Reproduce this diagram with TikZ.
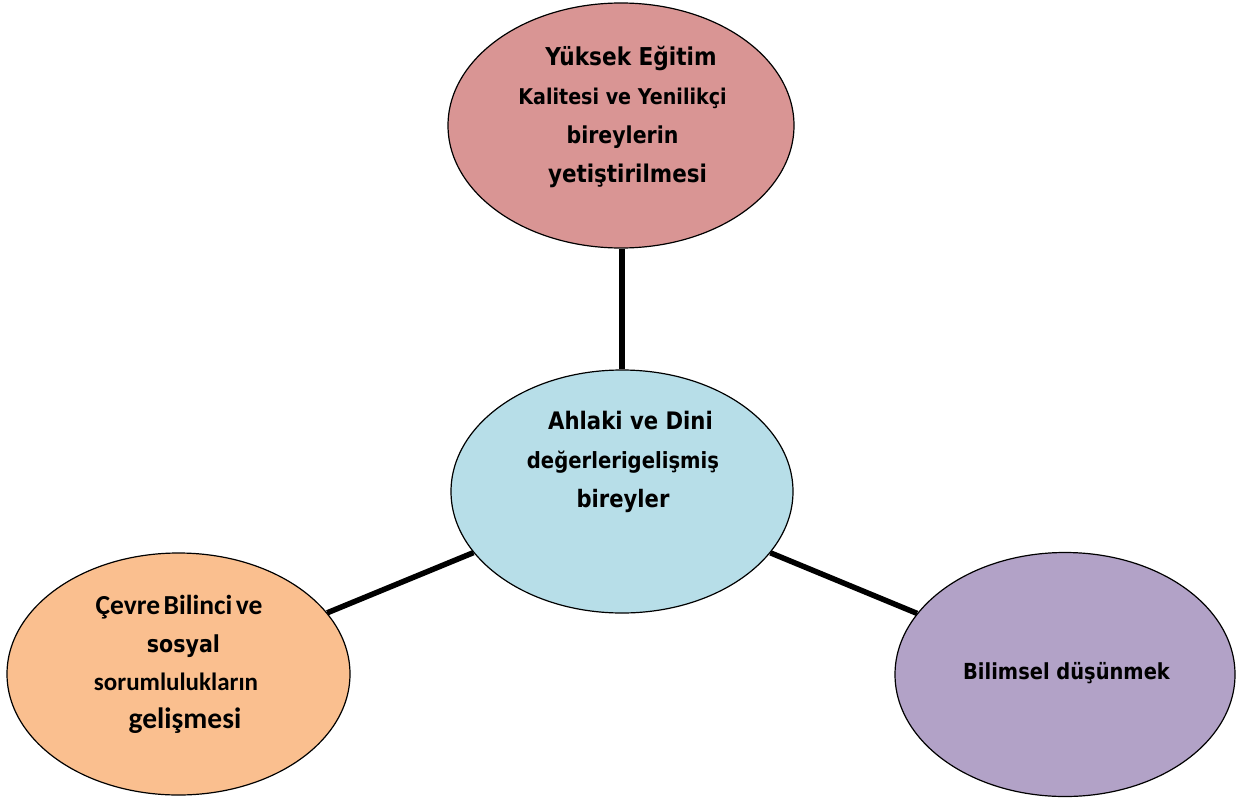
\documentclass[tikz,border=0pt]{standalone}
\usepackage{fontspec}
\setmainfont{DejaVu Sans}[FakeStretch=0.88]
\newfontfamily\carlitofont{Carlito}
\usetikzlibrary{shapes.geometric}
\definecolor{topfill}{RGB}{217,149,148}
\definecolor{midfill}{RGB}{183,222,232}
\definecolor{leftfill}{RGB}{250,191,143}
\definecolor{rightfill}{RGB}{178,162,199}
\newcommand{\fs}[1]{\fontsize{#1}{39}\selectfont}
\tikzset{
  blob/.style={ellipse, draw=black, line width=1.2pt, inner sep=0pt},
  label/.style={inner sep=0pt, align=center, font=\bfseries\fontsize{22}{39}\selectfont},
  link/.style={line width=5.5pt, draw=black}
}
\begin{document}
\begin{tikzpicture}[x=1pt,y=-1pt]
\useasboundingbox (0,0) rectangle (1238,797);
\node[blob, fill=topfill, minimum width=346pt, minimum height=245pt] (top) at (621,125.5) {};
\node[blob, fill=midfill, minimum width=342pt, minimum height=243pt] (mid) at (622,491.5) {};
\node[blob, fill=leftfill, minimum width=343pt, minimum height=242pt] (left) at (178.5,674) {};
\node[blob, fill=rightfill, minimum width=340pt, minimum height=244pt] (right) at (1065,674.5) {};
\draw[link] (top.south -| mid.north) -- (mid.north);
\draw[link] (mid) -- (left);
\draw[link] (mid) -- (right);
\node[label] (toptext) at (622.5,117) {\hspace*{17pt}{\fs{24.6}Yüksek Eğitim}\\{\fs{21.7}Kalitesi ve Yenilikçi}\\{\fs{23.3}bireylerin}\\\hspace*{10pt}{\fs{24.4}yetiştirilmesi}};
\node[label] (midtext) at (623,462) {\hspace*{15pt}{\fs{24.1}Ahlaki ve Dini}\\{\fs{22.3}değerlerigelişmiş}\\{\fs{24}bireyler}};
\node[label, font=\bfseries\fontsize{22}{38}\selectfont] (lefttext) at (176,664) {\hspace*{6pt}{\carlitofont\fs{27.5}\spaceskip=3.5pt Çevre Bilinci ve}\\\hspace*{15pt}{\fs{23.4}sosyal}\\{\carlitofont\fs{25}sorumlulukların}\\\hspace*{18pt}{\carlitofont\fs{29.5}gelişmesi}};
\node[label] (righttext) at (1066.5,673) {\fs{22.1}Bilimsel düşünmek};
\end{tikzpicture}
\end{document}
